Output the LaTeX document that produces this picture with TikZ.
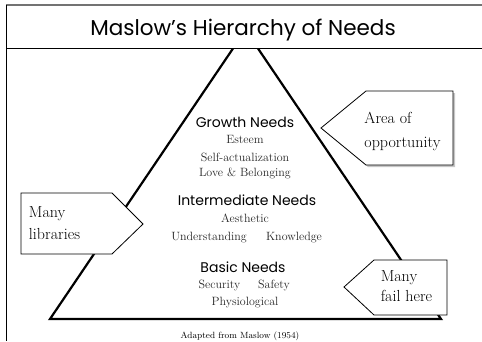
\documentclass[tikz,border=0pt]{standalone}
\usepackage{fontspec}
\setsansfont{Poppins}
\usetikzlibrary{positioning}
\usetikzlibrary{shadows}

\begin{document}
\begin{tikzpicture}[x=1pt,y=-1pt,
  level/.style={font=\sffamily\fontsize{14}{17}\selectfont, anchor=base},
  need/.style={font=\fontsize{12}{14}\selectfont, text=black!85, anchor=base},
  callout/.style={draw, fill=white, line width=0.8pt},
  note/.style={align=left, inner sep=0pt}]
  \useasboundingbox (0,0) rectangle (482,341);
  % the pyramid, its tip runs under the title band
  \coordinate (Top) at (245.5,30);
  \coordinate (BaseLeft) at (50,319);
  \coordinate (BaseRight) at (441,319);
  \draw[line width=2.2pt] (Top) -- (BaseLeft) -- (BaseRight) -- cycle;
  \fill[white] (6,5) rectangle (482,48);
  \draw[line width=1.6pt, black!55] (6,5) -- (482,5);
  \draw[line width=1pt] (6,5) -- (6,341);
  \draw[line width=0.8pt] (6,48) -- (482,48);
  \node[font=\sffamily\fontsize{21.5}{26}\selectfont, anchor=base] (Title) at (243,35) {Maslow’s Hierarchy of Needs};

  \node[level] (Growth) at (245,127) {Growth Needs};
  \node[need] (Esteem) at (245,143) {Esteem};
  \node[need] (Self) at (245,161) {Self-actualization};
  \node[need] (Love) at (245,176) {Love \& Belonging};
  \node[level] (Intermediate) at (247,205) {Intermediate Needs};
  \node[need] (Aesthetic) at (245,222) {Aesthetic};
  \node[need] (Understanding) at (209,240) {Understanding};
  \node[need] (Knowledge) at (294,240) {Knowledge};
  \node[level] (Basic) at (243,272) {Basic Needs};
  \node[need] (Security) at (219.5,288) {Security};
  \node[need] (Safety) at (274,288) {Safety};
  \node[need] (Physiological) at (245,305) {Physiological};
  \node[font=\fontsize{9}{11}\selectfont, anchor=base] (Source) at (240,338) {Adapted from Maslow (1954)};

  % callouts
  \draw[callout, drop shadow={shadow xshift=2pt, shadow yshift=-2pt, opacity=0.45}]
    (321,128) -- (366,91) -- (453,91) -- (453,165) -- (366,165) -- cycle;
  \node[note, font=\fontsize{16}{24}\selectfont] (Opportunity) at (402.5,131) {Area of\\opportunity};
  \draw[callout] (143,224) -- (112,193) -- (21,193) -- (21,254) -- (112,254) -- cycle;
  \node[note, font=\fontsize{16}{22}\selectfont] (Libraries) at (54.5,223.5) {Many\\libraries};
  \draw[callout] (344,287) -- (374,260) -- (447,260) -- (447,315) -- (374,315) -- cycle;
  \node[note, font=\fontsize{16}{20}\selectfont] (Fail) at (406.5,286.5) {Many\\fail here};
\end{tikzpicture}
\end{document}
